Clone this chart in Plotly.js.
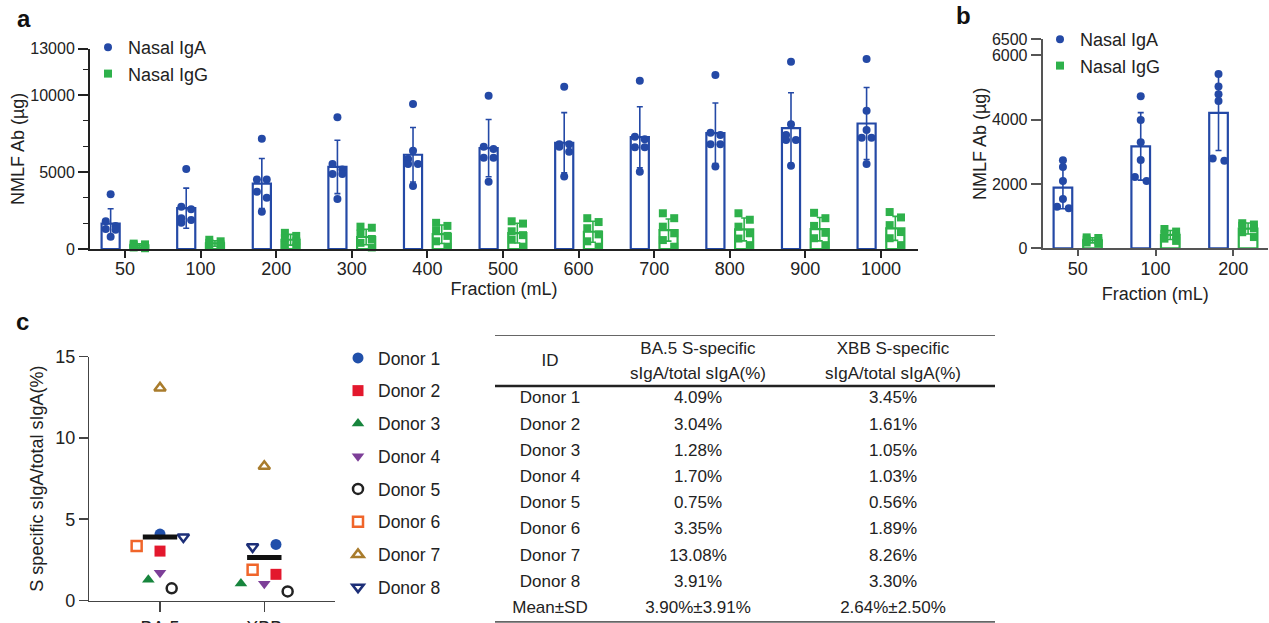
<!DOCTYPE html>
<html><head><meta charset="utf-8">
<script src="https://cdn.plot.ly/plotly-3.0.1.min.js"></script>
<style>html,body{margin:0;padding:0;background:#fff;}#chart{width:1269px;height:623px;}</style>
</head><body><div id="chart"></div>
<script>
// ---------- Panel a data ----------
const fractionsA = ['50','100','200','300','400','500','600','700','800','900','1000'];
const igaMeanA = [1650, 2650, 4250, 5330, 6120, 6550, 6900, 7260, 7520, 7850, 8150];
const igaSdA   = [965, 1300, 1625, 1735, 1765, 1860, 1955, 1980, 1965, 2295, 2340];
const iggMeanA = [230, 360, 600, 780, 960, 1030, 1120, 1230, 1270, 1290, 1340];
const iggSdA   = [110, 180, 350, 500, 600, 640, 680, 720, 740, 760, 780];
const igaDotsA = [
  [3550, 1800, 1500, 1300, 1250, 800],
  [5190, 2750, 2580, 1990, 1880, 1710],
  [7160, 4520, 4520, 3720, 3330, 2420],
  [8550, 5520, 5170, 4870, 4870, 3250],
  [9420, 6380, 5840, 5520, 5520, 4090],
  [9950, 6640, 6490, 5930, 5930, 4370],
  [10540, 6800, 6800, 6640, 6320, 4700],
  [10930, 7290, 7120, 6600, 6600, 5020],
  [11300, 7550, 7400, 6800, 6800, 5350],
  [12160, 8100, 7400, 7080, 7080, 5410],
  [12340, 8980, 7730, 7230, 7230, 5520]
];
const iggDotsA = [
  [350, 300, 250, 150, 100, 50],
  [600, 500, 400, 300, 200, 150],
  [1050, 850, 700, 500, 250, 150],
  [1450, 1380, 1000, 650, 400, 100],
  [1700, 1500, 1200, 850, 500, 150],
  [1800, 1650, 1150, 900, 600, 150],
  [2000, 1750, 1350, 950, 500, 150],
  [2320, 2000, 1450, 1020, 580, 150],
  [2320, 1900, 1450, 1020, 680, 250],
  [2350, 2000, 1500, 1050, 700, 250],
  [2400, 2050, 1550, 1100, 700, 250]
];
// ---------- Panel b data ----------
const fractionsB = ['50','100','200'];
const igaMeanB = [1890, 3170, 4210];
const igaSdB   = [660, 1050, 1170];
const iggMeanB = [250, 415, 615];
const iggSdB   = [80, 140, 170];
const igaDotsB = [
  [2740, 2530, 2090, 1530, 1295, 1245],
  [4730, 3990, 3300, 2750, 2220, 2090],
  [5420, 5030, 4790, 4580, 2790, 2725]
];
const iggDotsB = [
  [340, 320, 270, 220, 180, 150],
  [600, 520, 450, 380, 300, 230],
  [780, 740, 700, 620, 500, 350]
];
// ---------- Panel c / table data ----------
const variants = ['BA.5', 'XBB'];
const donors = ['Donor 1','Donor 2','Donor 3','Donor 4','Donor 5','Donor 6','Donor 7','Donor 8'];
const ba5Pct = [4.09, 3.04, 1.28, 1.70, 0.75, 3.35, 13.08, 3.91];
const xbbPct = [3.45, 1.61, 1.05, 1.03, 0.56, 1.89, 8.26, 3.30];
const tableHeaders = [['ID'], ['BA.5 S-specific', 'sIgA/total sIgA(%)'], ['XBB S-specific', 'sIgA/total sIgA(%)']];
const meanLabel = 'Mean±SD';

// ---------- styles ----------
const FONT = 'Liberation Sans, Arial, Helvetica, sans-serif';
const BLUE = '#2449a6';
const GREEN = '#2eb14b';
const AX = '#222';
const donorStyle = [
  {symbol: 'circle', color: '#2150aa'},
  {symbol: 'square', color: '#e3182d'},
  {symbol: 'triangle-up', color: '#17853d'},
  {symbol: 'triangle-down', color: '#7d3f98'},
  {symbol: 'circle-open', color: '#222222'},
  {symbol: 'square-open', color: '#f0652a'},
  {symbol: 'triangle-up-open', color: '#a97c2c'},
  {symbol: 'triangle-down-open', color: '#1d2f78'}
];
// horizontal spread (in jitter steps) of the scatter points in panel c
const jitterC = [[0, 0, -1, 0, 1, -2, 0, 2], [1, 1, -2, 0, 2, -1, 0, -1]];
const jitterStepC = 0.112;
const GROUP_OFF = 0.19;

function mean(a) { return a.reduce((s, v) => s + v, 0) / a.length; }
function sd(a) { const m = mean(a); return Math.sqrt(a.reduce((s, v) => s + (v - m) * (v - m), 0) / (a.length - 1)); }

// Prism-like column scatter: neighbouring values alternate left/right
function spread(vals, center, step, thr) {
  const idx = vals.map((v, i) => i).sort((a, b) => vals[b] - vals[a]);
  const xs = new Array(vals.length).fill(center);
  let cluster = [];
  const flush = () => {
    if (cluster.length > 1) cluster.forEach((k, j) => { xs[k] = center + (j % 2 === 0 ? -step / 2 : step / 2); });
    cluster = [];
  };
  idx.forEach(k => {
    if (cluster.length && vals[cluster[cluster.length - 1]] - vals[k] > thr) flush();
    cluster.push(k);
  });
  flush();
  return xs;
}

function dotTrace(dots, off, step, thr, name, color, symbol, xa, ya, legend) {
  const x = [], y = [];
  dots.forEach((arr, i) => {
    const xs = spread(arr, i + off, step, thr);
    arr.forEach((v, j) => { x.push(xs[j]); y.push(v); });
  });
  return {type: 'scatter', mode: 'markers', x, y, xaxis: xa, yaxis: ya, name,
    marker: {symbol, color, size: 8}, legend, showlegend: true, cliponaxis: false, hoverinfo: 'y'};
}
function barTrace(means, sds, color, xa, ya) {
  return {type: 'bar', x: means.map((_, i) => i), y: means, xaxis: xa, yaxis: ya, showlegend: false,
    marker: {color: '#ffffff', line: {color, width: 2.2}},
    error_y: {type: 'data', array: sds, color, thickness: 1.6, width: 3}};
}

const traces = [];
traces.push(barTrace(igaMeanA, igaSdA, BLUE, 'x', 'y'));
traces.push(barTrace(iggMeanA, iggSdA, GREEN, 'x', 'y'));
traces.push(dotTrace(igaDotsA, -GROUP_OFF, 0.13, 420, 'Nasal IgA', BLUE, 'circle', 'x', 'y', 'legend'));
traces.push(dotTrace(iggDotsA, GROUP_OFF, 0.15, 600, 'Nasal IgG', GREEN, 'square', 'x', 'y', 'legend'));

traces.push(barTrace(igaMeanB, igaSdB, BLUE, 'x2', 'y2'));
traces.push(barTrace(iggMeanB, iggSdB, GREEN, 'x2', 'y2'));
traces.push(dotTrace(igaDotsB, -GROUP_OFF, 0.15, 180, 'Nasal IgA', BLUE, 'circle', 'x2', 'y2', 'legend2'));
traces.push(dotTrace(iggDotsB, GROUP_OFF, 0.15, 300, 'Nasal IgG', GREEN, 'square', 'x2', 'y2', 'legend2'));

// Panel c donors
const pctByVariant = [ba5Pct, xbbPct];
donors.forEach((d, k) => {
  const st = donorStyle[k];
  const open = st.symbol.indexOf('open') >= 0;
  traces.push({type: 'scatter', mode: 'markers', name: d, legend: 'legend3', legendgroup: d,
    x: variants.map((_, v) => v + jitterC[v][k] * jitterStepC),
    y: pctByVariant.map(arr => arr[k]), xaxis: 'x3', yaxis: 'y3', cliponaxis: false,
    marker: {symbol: st.symbol, color: st.color, size: open ? 10 : 11, line: {color: st.color, width: open ? 2.5 : 0}}});
});
// mean lines
variants.forEach((v, i) => {
  const m = mean(pctByVariant[i]);
  traces.push({type: 'scatter', mode: 'lines', x: [i - 0.165, i + 0.165], y: [m, m], xaxis: 'x3', yaxis: 'y3',
    line: {color: '#111', width: 5}, showlegend: false, hoverinfo: 'skip'});
});

// ---------- Table (text drawn on an invisible axis pair x4/y4) ----------
const colWidths = [110, 186, 204];
const colCenters = colWidths.map((w, i) => colWidths.slice(0, i).reduce((s, v) => s + v, 0) + w / 2);
const fmt = v => v.toFixed(2) + '%';
const tableCols = [
  donors.concat([meanLabel]),
  ba5Pct.map(fmt).concat([fmt(mean(ba5Pct)) + '±' + fmt(sd(ba5Pct))]),
  xbbPct.map(fmt).concat([fmt(mean(xbbPct)) + '±' + fmt(sd(xbbPct))])
];
const HEADER_ROWS = 1.947; // header height in row units
tableCols.forEach((col, c) => {
  traces.push({type: 'scatter', mode: 'text', x: col.map(() => colCenters[c]), y: col.map((_, r) => r + 0.5),
    text: col, textposition: 'middle center', textfont: {family: FONT, size: 17, color: '#222'},
    xaxis: 'x4', yaxis: 'y4', showlegend: false, hoverinfo: 'skip', cliponaxis: false});
  const h = tableHeaders[c];
  const hy = h.length === 1 ? [-HEADER_ROWS / 2 + 0.04] : [-1.40, -0.42];
  traces.push({type: 'scatter', mode: 'text', x: h.map(() => colCenters[c]), y: hy,
    text: h, textposition: 'middle center', textfont: {family: FONT, size: 17, color: '#222'},
    xaxis: 'x4', yaxis: 'y4', showlegend: false, hoverinfo: 'skip', cliponaxis: false});
});
const tableW = colWidths.reduce((s, v) => s + v, 0);
const nRows = tableCols[0].length;

function axisBase(extra) {
  return Object.assign({showline: true, linecolor: AX, linewidth: 2, ticks: 'outside', tickcolor: AX, tickwidth: 2,
    showgrid: false, zeroline: false, fixedrange: true, tickfont: {family: FONT, size: 18, color: '#222'}}, extra);
}

const layout = {
  width: 1269, height: 623, margin: {l: 0, r: 0, t: 0, b: 0},
  paper_bgcolor: '#fff', plot_bgcolor: 'rgba(0,0,0,0)',
  font: {family: FONT, color: '#222'},
  barmode: 'group', bargap: 0.24, bargroupgap: 0.37,
  xaxis: axisBase({domain: [90 / 1269, 918 / 1269], anchor: 'y', range: [-0.463, 10.49],
    tickmode: 'array', tickvals: fractionsA.map((_, i) => i), ticktext: fractionsA, ticklen: 7, ticklabelstandoff: -5,
    title: {text: 'Fraction (mL)', font: {family: FONT, size: 18, color: '#222'}, standoff: 2}}),
  yaxis: axisBase({domain: [(623 - 249) / 623, (623 - 48.8) / 623], anchor: 'x', range: [0, 13000],
    tickmode: 'array', tickvals: [0, 5000, 10000, 13000], ticktext: ['0', '5000', '10000', '13000'], ticklen: 10,
    tickfont: {family: FONT, size: 16, color: '#222'},
    minor: {tickmode: 'array', tickvals: [1666.67, 3333.33, 6666.67, 8333.33, 11666.67], ticklen: 5, tickwidth: 1.5, tickcolor: AX},
    title: {text: 'NMLF Ab (µg)', font: {family: FONT, size: 18, color: '#222'}}}),
  xaxis2: axisBase({domain: [1042.7 / 1269, 1268 / 1269], anchor: 'y2', range: [-0.45, 2.446],
    linecolor: '#555', tickcolor: '#555',
    tickmode: 'array', tickvals: fractionsB.map((_, i) => i), ticktext: fractionsB, ticklen: 6, ticklabelstandoff: -3,
    title: {text: 'Fraction (mL)', font: {family: FONT, size: 18, color: '#222'}, standoff: 9}}),
  yaxis2: axisBase({domain: [(623 - 248.3) / 623, (623 - 39.3) / 623], anchor: 'x2', range: [0, 6500],
    linecolor: '#555', tickcolor: '#555',
    tickmode: 'array', tickvals: [0, 2000, 4000, 6000, 6500], ticklen: 10,
    tickfont: {family: FONT, size: 16, color: '#222'},
    title: {text: 'NMLF Ab (µg)', font: {family: FONT, size: 18, color: '#222'}}}),
  xaxis3: axisBase({domain: [89.3 / 1269, 335 / 1269], anchor: 'y3', range: [-0.678, 1.678],
    linecolor: '#444', tickcolor: '#444', linewidth: 1.5, tickwidth: 1.5,
    tickmode: 'array', tickvals: variants.map((_, i) => i), ticktext: variants, ticklen: 10, ticklabelstandoff: 0}),
  yaxis3: axisBase({domain: [(623 - 600.5) / 623, (623 - 356.7) / 623], anchor: 'x3', range: [0, 15],
    linecolor: '#444', tickcolor: '#444', linewidth: 1.5, tickwidth: 1.5,
    tickmode: 'array', tickvals: [0, 5, 10, 15], ticklen: 9,
    title: {text: 'S specific sIgA/total sIgA(%)', font: {family: FONT, size: 18, color: '#222'}}}),
  xaxis4: {domain: [495 / 1269, 995 / 1269], anchor: 'y4', range: [0, tableW], visible: false, fixedrange: true},
  yaxis4: {domain: [0, (623 - 335) / 623], anchor: 'x4', range: [9.046, -HEADER_ROWS], visible: false, fixedrange: true},
  legend: {x: 88 / 1269, y: 1 - 29 / 623, xanchor: 'left', yanchor: 'top', bgcolor: 'rgba(0,0,0,0)',
    font: {family: FONT, size: 18, color: '#222'}},
  legend2: {x: 1040 / 1269, y: 1 - 21 / 623, xanchor: 'left', yanchor: 'top', bgcolor: 'rgba(0,0,0,0)',
    font: {family: FONT, size: 18, color: '#222'}},
  legend3: {x: 338 / 1269, y: 1 - 340 / 623, xanchor: 'left', yanchor: 'top', bgcolor: 'rgba(0,0,0,0)',
    tracegroupgap: 7, font: {family: FONT, size: 17.5, color: '#222'}},
  shapes: [
    {type: 'line', xref: 'x4', yref: 'y4', x0: 0, x1: tableW, y0: -HEADER_ROWS, y1: -HEADER_ROWS, line: {color: '#666', width: 1.8}},
    {type: 'line', xref: 'x4', yref: 'y4', x0: 0, x1: tableW, y0: 0, y1: 0, line: {color: '#222', width: 2.6}},
    {type: 'line', xref: 'x4', yref: 'y4', x0: 0, x1: tableW, y0: nRows, y1: nRows, line: {color: '#666', width: 1.8}}
  ],
  annotations: [
    {text: '<b>a</b>', xref: 'paper', yref: 'paper', x: 24 / 1269, y: 1 - 18 / 623, xanchor: 'center', yanchor: 'middle', showarrow: false, font: {family: FONT, size: 24, color: '#111'}},
    {text: '<b>b</b>', xref: 'paper', yref: 'paper', x: 963 / 1269, y: 1 - 15 / 623, xanchor: 'center', yanchor: 'middle', showarrow: false, font: {family: FONT, size: 24, color: '#111'}},
    {text: '<b>c</b>', xref: 'paper', yref: 'paper', x: 23 / 1269, y: 1 - 321 / 623, xanchor: 'center', yanchor: 'middle', showarrow: false, font: {family: FONT, size: 24, color: '#111'}}
  ]
};

Plotly.newPlot('chart', traces, layout, {displayModeBar: false, staticPlot: true});
</script>
</body></html>
